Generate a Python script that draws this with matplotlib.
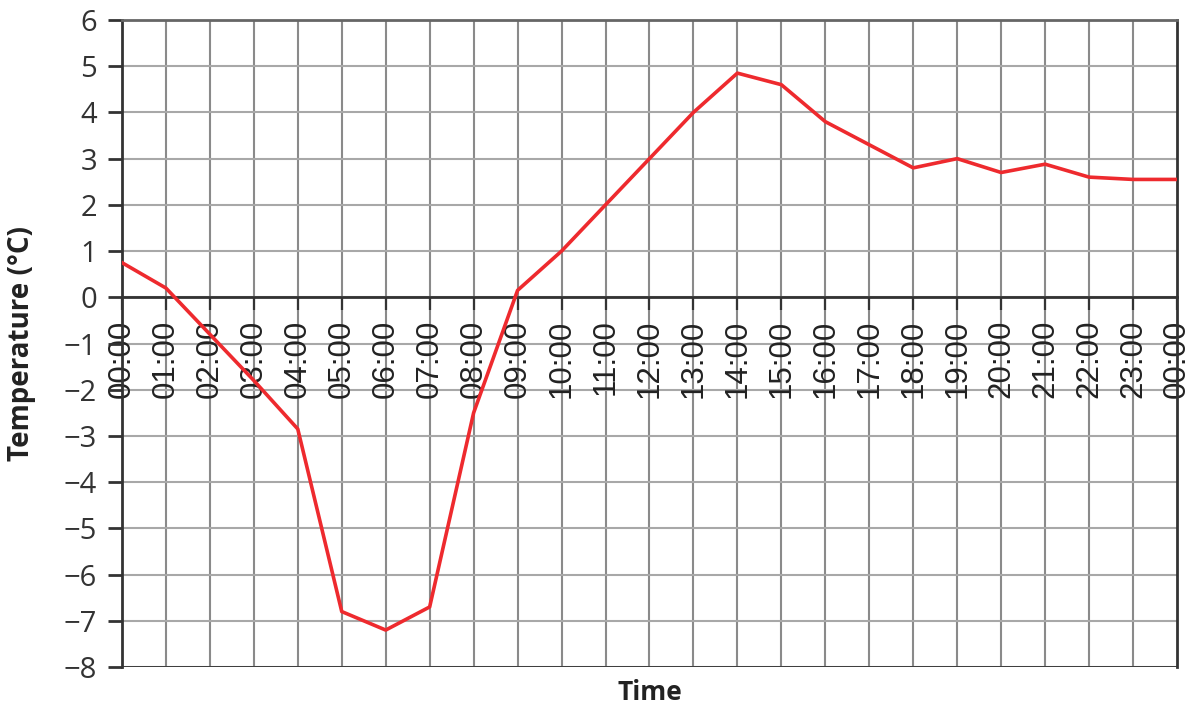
import matplotlib.pyplot as plt
import numpy as np

# hourly readings, 00:00 to the next 00:00
hours = list(range(25))
hour_labels = ['%02d:00' % (h % 24) for h in hours]
temps = [0.75, 0.2, -0.8, -1.8, -2.85, -6.8, -7.2, -6.7, -2.5, 0.15,
         1.0, 2.0, 3.0, 4.0, 4.85, 4.6, 3.8, 3.3, 2.8, 3.0,
         2.7, 2.88, 2.6, 2.55, 2.55]
y_ticks = list(range(-8, 7))

fig = plt.figure(figsize=(11.92, 7.06), dpi=100)
ax = fig.add_axes([0.1023, 0.0552, 0.8851, 0.9165])

ax.set_xlim(0, 24)
ax.set_ylim(-8, 6)

# grid
for h in hours[1:-1]:
    ax.axvline(h, color='#8a8a8a', lw=1.5, zorder=1)
for v in y_ticks:
    ax.axhline(v, color='#a8a8a8', lw=1.5, zorder=1)

# frame
ax.axhline(-8, color='#333333', lw=2, zorder=3)
ax.spines['bottom'].set_position(('data', 0))
for s in ['bottom', 'left', 'right']:
    ax.spines[s].set_color('#333333')
    ax.spines[s].set_linewidth(2)
ax.spines['top'].set_color('#666666')
ax.spines['top'].set_linewidth(2)

ax.plot(hours, temps, color='#ee2a2e', lw=2.6, zorder=4)

ax.set_xticks(hours)
ax.set_xticklabels(hour_labels, rotation=90, fontsize=22.5, family='Liberation Sans', color='#222222')
ax.tick_params(axis='x', direction='out', length=9, width=1.6, color='#333333', pad=7)

ax.set_yticks(y_ticks)
ax.set_yticklabels([str(v).replace('-', '\u2212') for v in y_ticks], fontsize=21, family='Open Sans', color='#333333')
ax.tick_params(axis='y', direction='out', length=10, width=2, color='#333333', pad=8)

ax.set_ylabel('Temperature (\u00b0C)', fontsize=20, fontweight='bold', family='Open Sans', color='#222222')
ax.yaxis.set_label_coords(-0.081, 0.5)
fig.text(0.545, 1 - 692 / 706, 'Time', fontsize=19, fontweight='bold', family='Open Sans',
         color='#222222', ha='center', va='center')

fig.savefig('out.png', dpi=100)
